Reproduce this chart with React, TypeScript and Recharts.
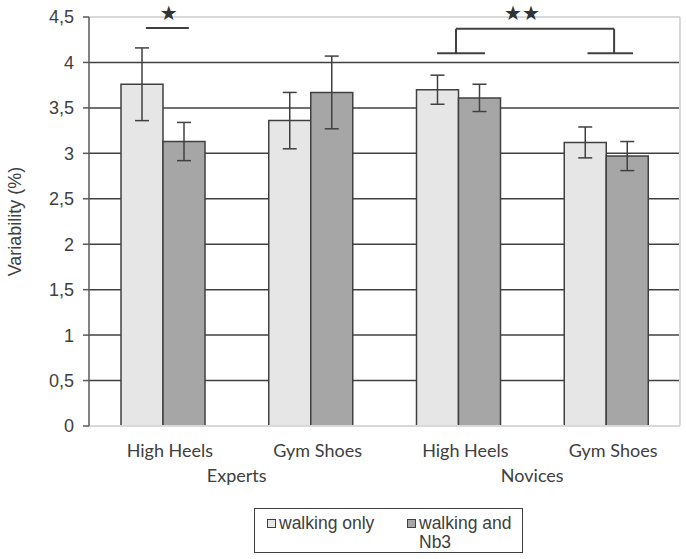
import React from 'react';
import {
  BarChart,
  Bar,
  XAxis,
  YAxis,
  CartesianGrid,
  ErrorBar,
  ReferenceLine,
  ReferenceDot,
} from 'recharts';

// values
const shoes = ['High Heels', 'Gym Shoes', 'High Heels', 'Gym Shoes'];
const groups = ['Experts', 'Novices'];
const walkingOnly = [3.76, 3.36, 3.7, 3.12];
const walkingNb3 = [3.13, 3.67, 3.61, 2.97];
const errWalkingOnly = [0.4, 0.31, 0.16, 0.17];
const errWalkingNb3 = [0.21, 0.4, 0.15, 0.16];
const yTicks = [0, 0.5, 1, 1.5, 2, 2.5, 3, 3.5, 4, 4.5];
const gridValues = [0.5, 1, 1.5, 2, 2.5, 3, 3.5, 4];
const seriesNames = ['walking only', 'walking and Nb3'];
const seriesColors = ['#e6e6e6', '#a6a6a6'];

const data = shoes.map((shoe, i) => ({
  shoe,
  only: walkingOnly[i],
  nb3: walkingNb3[i],
  errOnly: errWalkingOnly[i],
  errNb3: errWalkingNb3[i],
}));

const ink = '#404040';
const light = '#d9d9d9';

const ShoeTick = (props: any) => {
  const { x, y, payload } = props;
  return (
    <text
      x={x + 7}
      y={y}
      dy="0.71em"
      textAnchor="middle"
      fill={ink}
      fontSize={18}
      fontFamily="Lato"
    >
      {payload.value}
    </text>
  );
};

const StarLabel = (stars: string) => (props: any) => {
  const { viewBox } = props;
  const cx = viewBox.x + (viewBox.width || 0) / 2;
  const cy = viewBox.y + (viewBox.height || 0) / 2;
  return (
    <text
      x={cx}
      y={cy}
      dy="0.35em"
      textAnchor="middle"
      fill="#333"
      fontSize={20}
      fontFamily="DejaVu Sans"
    >
      {stars}
    </text>
  );
};

const seg = (x1: number, y1: number, x2: number, y2: number, key: string) => (
  <ReferenceLine
    key={key}
    xAxisId="n"
    segment={[
      { x: x1, y: y1 },
      { x: x2, y: y2 },
    ]}
    stroke={ink}
    strokeWidth={2}
    ifOverflow="visible"
  />
);

export default function App() {
  return (
    <div style={{ position: 'absolute', left: 0, top: 0, width: 686, height: 559 }}>
      <BarChart
        width={686}
        height={559}
        data={data}
        margin={{ top: 17, right: 6, left: 0, bottom: 63 }}
        barGap={0}
      >
        <CartesianGrid
          vertical={false}
          horizontalValues={gridValues}
          stroke={ink}
          strokeWidth={1.5}
        />
        <XAxis
          dataKey="shoe"
          allowDuplicatedCategory
          height={30}
          tickLine={false}
          tickSize={0}
          tickMargin={18}
          axisLine={{ stroke: light, strokeWidth: 2 }}
          tick={<ShoeTick />}
        />
        {/* linear helper axis spanning the four categories: group labels and marks */}
        <XAxis
          xAxisId="n"
          dataKey="only"
          type="number"
          domain={[0, 4]}
          allowDataOverflow
          ticks={[1, 3]}
          tickFormatter={(v: number) => groups[(v - 1) / 2]}
          height={40}
          axisLine={false}
          tickLine={false}
          tickSize={0}
          tickMargin={13}
          tick={{ fill: ink, fontSize: 18, fontFamily: 'Lato' }}
        />
        <YAxis
          width={89}
          domain={[0, 4.5]}
          ticks={yTicks}
          tickFormatter={(v: number) => String(v).replace('.', ',')}
          tickSize={6}
          tickMargin={9}
          axisLine={{ stroke: '#595959', strokeWidth: 1.5 }}
          tickLine={{ stroke: '#595959', strokeWidth: 1.5 }}
          tick={{ fill: ink, fontSize: 18, fontFamily: 'Liberation Sans' }}
          label={{
            value: 'Variability (%)',
            angle: -90,
            position: 'center',
            dx: -30,
            fill: ink,
            fontSize: 18,
            fontFamily: 'Liberation Sans',
          }}
        />
        <ReferenceLine y={4.5} stroke={light} strokeWidth={2} />
        <ReferenceLine xAxisId="n" x={4} stroke={light} strokeWidth={2} ifOverflow="visible" />
        <Bar
          dataKey="only"
          name={seriesNames[0]}
          fill={seriesColors[0]}
          stroke={ink}
          strokeWidth={1.5}
          barSize={42}
          isAnimationActive={false}
        >
          <ErrorBar dataKey="errOnly" width={7} stroke={ink} strokeWidth={1.5} />
        </Bar>
        <Bar
          dataKey="nb3"
          name={seriesNames[1]}
          fill={seriesColors[1]}
          stroke={ink}
          strokeWidth={1.5}
          barSize={42}
          isAnimationActive={false}
        >
          <ErrorBar dataKey="errNb3" width={7} stroke={ink} strokeWidth={1.5} />
        </Bar>

        {/* significance marks */}
        {seg(0.385, 4.38, 0.676, 4.38, 's1')}
        {seg(2.484, 4.37, 3.554, 4.37, 'b-top')}
        {seg(2.484, 4.37, 2.484, 4.1, 'b-l')}
        {seg(3.554, 4.37, 3.554, 4.1, 'b-r')}
        {seg(2.356, 4.1, 2.68, 4.1, 'b-fl')}
        {seg(3.374, 4.1, 3.682, 4.1, 'b-fr')}
        <ReferenceDot
          xAxisId="n"
          x={0.54}
          y={4.54}
          r={0}
          fill="none"
          stroke="none"
          ifOverflow="visible"
          label={StarLabel('★')}
        />
        <ReferenceDot
          xAxisId="n"
          x={2.93}
          y={4.54}
          r={0}
          fill="none"
          stroke="none"
          ifOverflow="visible"
          label={StarLabel('★★')}
        />
      </BarChart>

      <div
        style={{
          position: 'absolute',
          left: 254,
          top: 508,
          width: 267,
          height: 43,
          border: `1.5px solid ${ink}`,
          fontFamily: 'Liberation Sans',
          fontSize: 17.5,
          lineHeight: '19px',
          color: ink,
        }}
      >
        {seriesNames.map((name, i) => (
          <div
            key={name}
            style={{
              position: 'absolute',
              left: i === 0 ? 12 : 152,
              top: 5,
              display: 'flex',
              alignItems: 'flex-start',
              width: i === 0 ? 120 : 108,
            }}
          >
            <span
              style={{
                display: 'inline-block',
                width: 7,
                height: 7,
                marginTop: 5,
                marginRight: 3,
                flex: 'none',
                background: seriesColors[i],
                border: `1px solid ${ink}`,
              }}
            />
            <span>{name}</span>
          </div>
        ))}
      </div>
    </div>
  );
}
